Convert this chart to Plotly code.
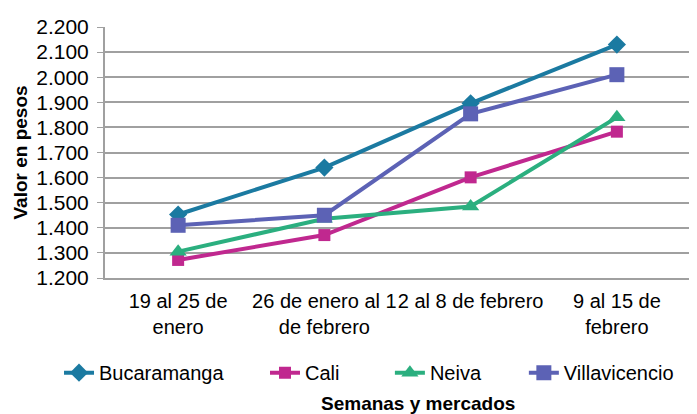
import plotly.graph_objects as go

categories = ["19 al 25 de<br>enero", "26 de enero al 1<br>de febrero", "2 al 8 de febrero", "9 al 15 de<br>febrero"]
bucaramanga = [1453, 1640, 1896, 2130]
cali = [1272, 1371, 1601, 1783]
neiva = [1305, 1436, 1485, 1840]
villavicencio = [1410, 1450, 1854, 2010]
y_ticks = [1200, 1300, 1400, 1500, 1600, 1700, 1800, 1900, 2000, 2100, 2200]

series = [
    ("Bucaramanga", bucaramanga, "#1B7AA1", "diamond", 14, "legend", -0.0786),
    ("Cali", cali, "#C0288F", "square", 12, "legend2", 0.2735),
    ("Neiva", neiva, "#2BAF7F", "triangle-up", 15, "legend3", 0.487),
    ("Villavicencio", villavicencio, "#5C62B5", "square", 15, "legend4", 0.716),
]

fig = go.Figure()
legends = {}
for name, vals, color, sym, size, lg, lx in series:
    fig.add_trace(go.Scatter(
        x=categories, y=vals, name=name, mode="lines+markers",
        line=dict(color=color, width=4),
        marker=dict(symbol=sym, size=size, color=color),
        legend=lg,
    ))
    legends[lg] = dict(orientation="h", x=lx, xanchor="left", y=-0.377, yanchor="middle",
                       font=dict(size=20), bgcolor="rgba(0,0,0,0)", borderwidth=0)

font = "Liberation Sans, Arial, sans-serif"
# page body adds an 8px offset, so the figure is 8px smaller than the window
fig.update_layout(
    width=689, height=406,
    margin=dict(l=97, r=7, t=13, b=136),
    paper_bgcolor="white", plot_bgcolor="white",
    separators=",.",
    font=dict(family=font, size=20, color="#000000"),
    showlegend=True,
    xaxis=dict(showgrid=False, showline=True, linecolor="#A0A0A0", linewidth=2,
               ticks="", tickfont=dict(size=20), tickangle=0,
               range=[-0.5, 3.5], ticklabelstandoff=4),
    yaxis=dict(range=[1200, 2200], tickvals=y_ticks, tickformat=",d",
               showgrid=True, gridcolor="#A0A0A0", gridwidth=1.6,
               showline=True, linecolor="#A0A0A0", linewidth=2,
               ticks="outside", ticklen=6, tickcolor="#A0A0A0",
               tickfont=dict(size=21), ticklabelstandoff=4,
               title=dict(text="<b>Valor en pesos</b>", font=dict(size=19), standoff=4),
               zeroline=False),
    annotations=[dict(text="<b>Semanas y mercados</b>", xref="paper", yref="paper",
                      x=0.535, y=-0.5, xanchor="center", yanchor="middle",
                      showarrow=False, font=dict(size=19))],
    **legends,
)
fig.write_html("out.html")
